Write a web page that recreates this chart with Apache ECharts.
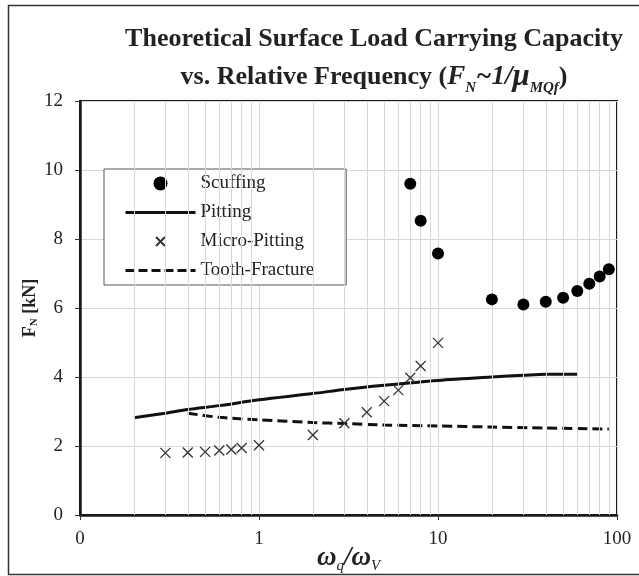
<!DOCTYPE html>
<html>
<head>
<meta charset="utf-8">
<script src="https://cdn.jsdelivr.net/npm/echarts@6/dist/echarts.min.js"></script>
<style>html,body{margin:0;padding:0;background:#fff;}#c{width:639px;height:576px;}</style>
</head>
<body>
<div id="c"></div>
<script>
// ---- data ----
const scuffingX = [7, 8, 10, 20, 30, 40, 50, 60, 70, 80, 90];
const scuffingY = [9.6, 8.53, 7.58, 6.25, 6.1, 6.18, 6.3, 6.49, 6.7, 6.91, 7.12];

const pittingX = [0.2, 0.3, 0.4, 0.6, 1, 2, 3, 5, 10, 20, 30, 40, 60];
const pittingY = [2.82, 2.95, 3.06, 3.17, 3.34, 3.52, 3.64, 3.76, 3.9, 4.0, 4.05, 4.08, 4.08];

const microX = [0.3, 0.4, 0.5, 0.6, 0.7, 0.8, 1, 2, 3, 4, 5, 6, 7, 8, 10];
const microY = [1.8, 1.81, 1.83, 1.87, 1.9, 1.94, 2.02, 2.32, 2.66, 2.98, 3.3, 3.62, 3.98, 4.32, 4.99];

const toothX = [0.4, 0.6, 1, 2, 3, 5, 10, 20, 40, 90];
const toothY = [2.95, 2.83, 2.76, 2.68, 2.65, 2.61, 2.58, 2.55, 2.52, 2.49];

const xTicks = [0.1, 1, 10, 100];
const xTickLabels = ['0', '1', '10', '100'];
const minorGridX = [0.2,0.3,0.4,0.5,0.6,0.7,0.8,0.9, 2,3,4,5,6,7,8,9, 20,30,40,50,60,70,80,90];

const zip = (xs, ys) => xs.map((x, i) => [x, ys[i]]);
const serif = '"Liberation Serif", "DejaVu Serif", serif';
const gridColor = '#ddd6d6';

// legend icons (bounding box 70x14 kept by corner points)
const box = 'M0,0L0,0M70,14L70,14';
const iconSolid = 'path://' + box + 'M0,5.5h70v3h-70z';
const iconDash = 'path://' + box + 'M0,5.5h9v3h-9zM13,5.5h9v3h-9zM26,5.5h9v3h-9zM39,5.5h9v3h-9zM52,5.5h9v3h-9zM65,5.5h5v3h-5z';
const iconCross = 'path://' + box + 'M30.5,2.5L39.5,11.5M39.5,2.5L30.5,11.5';

const chart = echarts.init(document.getElementById('c'), null, {renderer: 'canvas'});
chart.setOption({
  backgroundColor: '#fff',
  animation: false,
  title: {
    left: 369, top: 15, textAlign: 'center',
    text: '{b|Theoretical Surface Load Carrying Capacity}\n{b|vs. Relative Frequency (}{i|F}{s|N}{i|~1/}{m|μ}{s|MQf}{b|)}',
    textStyle: {
      rich: {
        b: {fontFamily: serif, fontWeight: 'bold', fontSize: 26, color: '#222', lineHeight: 38},
        i: {fontFamily: serif, fontWeight: 'bold', fontStyle: 'italic', fontSize: 27, color: '#222', lineHeight: 38},
        m: {fontFamily: serif, fontWeight: 'bold', fontStyle: 'italic', fontSize: 31, color: '#222', lineHeight: 38},
        s: {fontFamily: serif, fontWeight: 'bold', fontStyle: 'italic', fontSize: 15, color: '#222', lineHeight: 38, verticalAlign: 'bottom', padding: [15, 0, 0, 0]}
      }
    }
  },
  graphic: [{
    type: 'rect', left: 6, top: 3, silent: true,
    shape: {width: 640, height: 569},
    style: {fill: 'none', stroke: '#333', lineWidth: 1.5}
  }],
  grid: {left: 80, right: 22, top: 101, bottom: 61, show: true, borderColor: '#1a1a1a', borderWidth: 2, backgroundColor: 'transparent', outerBoundsMode: 'none', containLabel: false},
  legend: {
    orient: 'vertical', left: 104, top: 169,
    backgroundColor: '#fff', borderColor: '#555', borderWidth: 1,
    padding: [5, 32, 5, 19],
    itemWidth: 70, itemHeight: 14, itemGap: 10,
    textStyle: {fontFamily: serif, fontSize: 19, color: '#222', lineHeight: 19},
    data: [
      {name: 'Scuffing', icon: 'circle'},
      {name: 'Pitting', icon: iconSolid},
      {name: 'Micro-Pitting', icon: iconCross},
      {name: 'Tooth-Fracture', icon: iconDash}
    ]
  },
  xAxis: {
    type: 'log', logBase: 10, min: 0.1, max: 100,
    name: '{w|ω}{s|q}{w|/ω}{s|V}', nameLocation: 'middle', nameGap: 28, nameMoveOverlap: false,
    nameTextStyle: {
      rich: {
        w: {fontFamily: serif, fontStyle: 'italic', fontWeight: 'bold', fontSize: 27, color: '#222'},
        s: {fontFamily: serif, fontStyle: 'italic', fontSize: 15, color: '#222', verticalAlign: 'bottom', padding: [16, 0, 0, 0]}
      }
    },
    axisLine: {show: true, lineStyle: {color: '#1a1a1a', width: 2.5}},
    axisTick: {show: true, length: 5, inside: false, lineStyle: {color: '#333', width: 1}},
    axisLabel: {
      fontFamily: serif, fontSize: 19, color: '#222', margin: 15,
      formatter: v => { const i = xTicks.findIndex(t => Math.abs(Math.log10(t) - Math.log10(v)) < 0.01); return i >= 0 ? xTickLabels[i] : ''; }
    },
    splitLine: {show: true, lineStyle: {color: gridColor, width: 1}},
    minorTick: {show: false}
  },
  yAxis: {
    type: 'value', min: 0, max: 12, interval: 2,
    name: '{b|F}{s|N}{b| [kN]}', nameLocation: 'middle', nameGap: 40, nameMoveOverlap: false,
    nameTextStyle: {
      rich: {
        b: {fontFamily: serif, fontWeight: 'bold', fontSize: 18, color: '#222'},
        s: {fontFamily: serif, fontWeight: 'bold', fontSize: 11, color: '#222', verticalAlign: 'bottom', padding: [9, 0, 0, 0]}
      }
    },
    axisLine: {show: true, lineStyle: {color: '#1a1a1a', width: 2.5}},
    axisTick: {show: true, length: 5, lineStyle: {color: '#333', width: 1}},
    axisLabel: {fontFamily: serif, fontSize: 19, color: '#222', margin: 17},
    splitLine: {show: true, lineStyle: {color: gridColor, width: 1}}
  },
  series: [
    {
      name: 'minorGrid', type: 'line', data: [], silent: true, z: 0,
      markLine: {
        silent: true, symbol: ['none', 'none'], animation: false,
        label: {show: false},
        lineStyle: {color: gridColor, width: 1, type: 'solid'},
        data: minorGridX.map(x => ({xAxis: x}))
      }
    },
    {
      name: 'Scuffing', type: 'scatter', data: zip(scuffingX, scuffingY),
      symbol: 'circle', symbolSize: 12, itemStyle: {color: '#000', opacity: 1}, z: 5
    },
    {
      name: 'Pitting', type: 'line', data: zip(pittingX, pittingY),
      showSymbol: false, symbol: 'none', smooth: 0.3,
      lineStyle: {color: '#111', width: 3}, itemStyle: {color: '#111'}, z: 4
    },
    {
      name: 'Micro-Pitting', type: 'scatter', data: zip(microX, microY),
      symbol: 'path://M0,0L10,10M10,0L0,10', symbolSize: 10, symbolKeepAspect: true,
      itemStyle: {color: 'none', borderColor: '#333', borderWidth: 1.3, opacity: 1}, z: 6
    },
    {
      name: 'Tooth-Fracture', type: 'line', data: zip(toothX, toothY),
      showSymbol: false, symbol: 'none', smooth: 0.3,
      lineStyle: {color: '#111', width: 3, type: [10, 5]}, itemStyle: {color: '#111'}, z: 4
    }
  ]
});
</script>
</body>
</html>
